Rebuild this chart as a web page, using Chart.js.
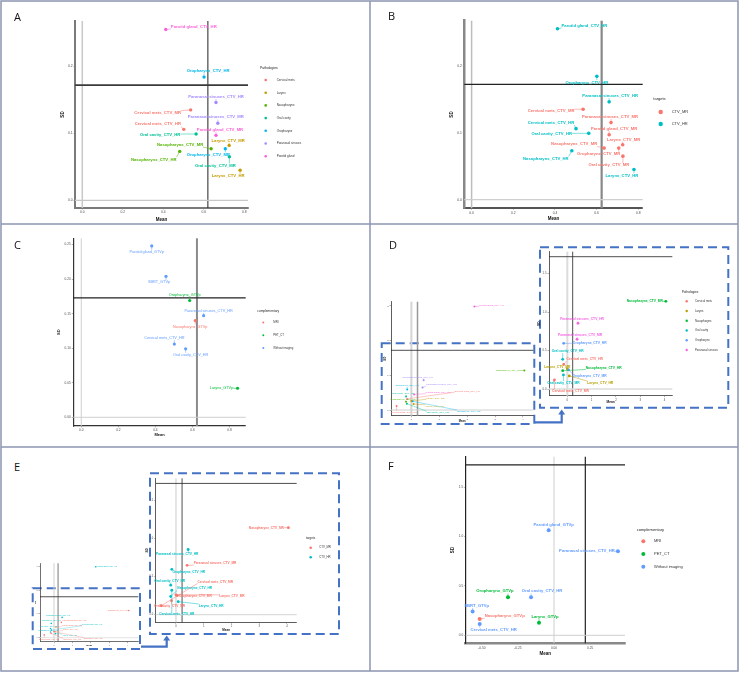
<!DOCTYPE html>
<html>
<head>
<meta charset="utf-8">
<title>Structures: mean vs SD</title>
<script src="https://cdn.jsdelivr.net/npm/chart.js@4.4.1/dist/chart.umd.min.js"></script>
<style>
  html, body { margin: 0; padding: 0; background: #fff; }
  #figure { position: relative; width: 740px; height: 673px; overflow: hidden; background: #fff; }
  #figure canvas { position: absolute; }
  #frame { position: absolute; left: 0; top: 0; }
  .tag { position: absolute; font: 11px "Open Sans", sans-serif; line-height: 1; color: #111; }
</style>
</head>
<body>
<div id="figure">
  <svg id="frame" width="740" height="673">
    <g stroke="#8c95b2" stroke-width="1.5" fill="none">
      <rect x="1" y="1" width="737" height="670"></rect>
      <line x1="370" y1="1" x2="370" y2="671"></line>
      <line x1="1" y1="224" x2="738" y2="224"></line>
      <line x1="1" y1="447" x2="738" y2="447"></line>
    </g>
    <g stroke="#4472c4" stroke-width="2" stroke-dasharray="9 5" fill="none">
      <rect x="381.7" y="343.3" width="152.6" height="80.7"></rect>
      <rect x="540" y="247.3" width="188.3" height="160.4"></rect>
      <rect x="32.7" y="588.3" width="107.3" height="60.7"></rect>
      <rect x="150" y="473.3" width="189" height="160.7"></rect>
    </g>
    <g stroke="#4472c4" stroke-width="2.2" fill="none">
      <polyline points="535,422.3 561.7,422.3 561.7,414"></polyline>
      <polyline points="141,646.7 166.7,646.7 166.7,640"></polyline>
    </g>
    <g fill="#4472c4">
      <polygon points="558.2,414.5 565.2,414.5 561.7,409.5"></polygon>
      <polygon points="163.2,640.5 170.2,640.5 166.7,635.5"></polygon>
    </g>
  </svg>

  <canvas id="chartA"></canvas>
  <canvas id="chartB"></canvas>
  <canvas id="chartC"></canvas>
  <canvas id="chartDfull"></canvas>
  <canvas id="chartDzoom"></canvas>
  <canvas id="chartEfull"></canvas>
  <canvas id="chartEzoom"></canvas>
  <canvas id="chartF"></canvas>

  <div class="tag" style="left:14px;top:11px">A</div>
  <div class="tag" style="left:388px;top:10px">B</div>
  <div class="tag" style="left:14px;top:239px">C</div>
  <div class="tag" style="left:389px;top:239px">D</div>
  <div class="tag" style="left:14px;top:461px">E</div>
  <div class="tag" style="left:388px;top:460px">F</div>
</div>

<script>
  // ---- data ----

  // A and B: CTV structures (pathology x target)
  const pathologyAB = ['Parotid gland', 'Oropharynx', 'Paranasal sinuses', 'Cervical mets', 'Paranasal sinuses', 'Cervical mets', 'Parotid gland',
    'Oral cavity', 'Larynx', 'Nasopharynx', 'Oropharynx', 'Nasopharynx', 'Oral cavity', 'Larynx'];
  const targetAB = ['CTV_HR', 'CTV_HR', 'CTV_HR', 'CTV_MR', 'CTV_MR', 'CTV_HR', 'CTV_MR',
    'CTV_HR', 'CTV_MR', 'CTV_MR', 'CTV_MR', 'CTV_HR', 'CTV_MR', 'CTV_HR'];
  const meanAB = [0.412, 0.601, 0.660, 0.535, 0.669, 0.501, 0.660, 0.562, 0.725, 0.636, 0.706, 0.481, 0.726, 0.779];
  const sdAB = [0.255, 0.184, 0.146, 0.135, 0.115, 0.106, 0.097, 0.099, 0.082, 0.077, 0.077, 0.073, 0.065, 0.045];
  const meanRefAB = 0.62;
  const sdRefAB = 0.172;

  // C and F: structures by complementary imaging
  const structureCF = ['Parotid gland_GTVp', 'SBRT_GTVp', 'Oropharynx_GTVp', 'Paranasal sinuses_CTV_HR',
    'Nasopharynx_GTVp', 'Cervical mets_CTV_HR', 'Oral cavity_CTV_HR', 'Larynx_GTVp'];
  const complementaryCF = ['Without imaging', 'Without imaging', 'PET_CT', 'Without imaging',
    'MRI', 'Without imaging', 'Without imaging', 'PET_CT'];
  const meanC = [0.380, 0.457, 0.585, 0.660, 0.615, 0.502, 0.563, 0.843];
  const sdC = [0.248, 0.204, 0.169, 0.147, 0.140, 0.106, 0.099, 0.042];
  const meanRefC = 0.624;
  const sdRefC = 0.1727;
  const meanF = [-0.037, -0.564, -0.319, 0.443, -0.515, -0.515, -0.159, -0.104];
  const sdF = [1.062, 0.240, 0.385, 0.850, 0.165, 0.115, 0.385, 0.128];
  const meanRefF = 0.217;
  const sdRefF = 1.724;

  // D and E: same structures, full view and zoomed view
  const pathologyDE = ['Parotid gland', 'Parotid gland', 'Nasopharynx', 'Paranasal sinuses', 'Paranasal sinuses', 'Oropharynx', 'Oral cavity',
    'Cervical mets', 'Larynx', 'Nasopharynx', 'Oropharynx', 'Oral cavity', 'Larynx', 'Cervical mets'];
  const targetDE = ['CTV_HR', 'CTV_MR', 'CTV_MR', 'CTV_HR', 'CTV_MR', 'CTV_HR', 'CTV_HR',
    'CTV_HR', 'CTV_MR', 'CTV_HR', 'CTV_MR', 'CTV_MR', 'CTV_HR', 'CTV_MR'];
  const meanDE = [2.26, 0.10, 4.05, 0.44, 0.40, -0.15, -0.19, -0.15, 0.00, -0.19, 0.05, -0.16, 0.08, -0.53];
  const sdDE = [2.98, 0.45, 1.14, 0.854, 0.646, 0.594, 0.386, 0.320, 0.260, 0.238, 0.250, 0.183, 0.170, 0.117];
  const meanRefDE = 0.22;
  const sdRefDE = 1.72;

  // tick labels
  const ticksMeanAB = [0, 0.2, 0.4, 0.6, 0.8];
  const ticksSdAB = [0, 0.1, 0.2];
  const ticksMeanC = [0, 0.2, 0.4, 0.6, 0.8];
  const ticksSdC = [0, 0.05, 0.10, 0.15, 0.20, 0.25];
  const ticksMeanF = [-0.5, -0.25, 0, 0.25];
  const ticksSdF = [0, 0.5, 1.0, 1.5];
  const ticksMeanDE = [0, 1, 2, 3, 4];
  const ticksSdFull = [0, 1, 2, 3];
  const ticksSdZoom = [0, 0.5, 1.0, 1.5];

  // legend categories and colours
  const pathologies7 = ['Cervical mets', 'Larynx', 'Nasopharynx', 'Oral cavity', 'Oropharynx', 'Paranasal sinuses', 'Parotid gland'];
  const pathologies6 = ['Cervical mets', 'Larynx', 'Nasopharynx', 'Oral cavity', 'Oropharynx', 'Paranasal sinuses'];
  const targets = ['CTV_MR', 'CTV_HR'];
  const complementary = ['MRI', 'PET_CT', 'Without imaging'];

  const hue7 = { 'Cervical mets': '#F8766D', 'Larynx': '#C49A00', 'Nasopharynx': '#53B400', 'Oral cavity': '#00C094',
    'Oropharynx': '#00B6EB', 'Paranasal sinuses': '#A58AFF', 'Parotid gland': '#FB61D7' };
  const hue6 = { 'Cervical mets': '#F8766D', 'Larynx': '#B79F00', 'Nasopharynx': '#00BA38', 'Oral cavity': '#00BFC4',
    'Oropharynx': '#619CFF', 'Paranasal sinuses': '#F564E3' };
  const targetColors = { CTV_MR: '#F8766D', CTV_HR: '#00BFC4' };
  const compColors = { 'MRI': '#F8766D', 'PET_CT': '#00BA38', 'Without imaging': '#619CFF' };

  const FONT = '"Liberation Sans", Arial, sans-serif';
  Chart.defaults.font.family = FONT;


  // ---- plugins ----

  const refLines = {
    id: 'refLines',
    beforeDatasetsDraw(chart, args, opts) {
      const { ctx, chartArea: a, scales } = chart;
      ctx.save();
      (opts.x || []).forEach(function(l){
        const px = scales.x.getPixelForValue(l[0]);
        ctx.strokeStyle = l[1];
        ctx.lineWidth = l[2];
        ctx.beginPath();
        ctx.moveTo(px, a.top);
        ctx.lineTo(px, a.bottom);
        ctx.stroke();
      });
      (opts.y || []).forEach(function(l){
        const py = scales.y.getPixelForValue(l[0]);
        ctx.strokeStyle = l[1];
        ctx.lineWidth = l[2];
        ctx.beginPath();
        ctx.moveTo(a.left, py);
        ctx.lineTo(a.right, py);
        ctx.stroke();
      });
      ctx.restore();
    }
  };

  // text labels next to the points, with a short leader line (like ggrepel)
  const pointLabels = {
    id: 'pointLabels',
    afterDatasetsDraw(chart, args, opts) {
      if (!opts.text) return;
      const ctx = chart.ctx;
      const colors = chart.data.datasets[0].pointBackgroundColor;
      const pts = chart.getDatasetMeta(0).data;
      const k = opts.scale || 1;
      ctx.save();
      ctx.font = (opts.bold ? 'bold ' : '') + opts.size + 'px ' + FONT;
      ctx.textAlign = 'center';
      ctx.textBaseline = 'middle';
      ctx.lineWidth = opts.lineWidth || 0.5;
      pts.forEach(function(pt, i){
        const txt = opts.text[i];
        const cx = pt.x + opts.nudge[i][0] * k;
        const cy = pt.y + opts.nudge[i][1] * k;
        const hw = ctx.measureText(txt).width / 2;
        const hh = opts.size * 0.55;
        const ex = Math.min(Math.max(pt.x, cx - hw), cx + hw);
        const ey = Math.min(Math.max(pt.y, cy - hh), cy + hh);
        ctx.strokeStyle = colors[i];
        ctx.fillStyle = colors[i];
        if (Math.hypot(ex - pt.x, ey - pt.y) > 1.5) {
          ctx.beginPath();
          ctx.moveTo(pt.x, pt.y);
          ctx.lineTo(ex, ey);
          ctx.stroke();
        }
        ctx.fillText(txt, cx, cy);
      });
      ctx.restore();
    }
  };

  // legend at the right of the panel, positions in figure pixels
  const sideLegend = {
    id: 'sideLegend',
    afterDraw(chart, args, opts) {
      if (!opts.labels) return;
      const ctx = chart.ctx;
      const ox = chart.canvas.offsetLeft;
      const oy = chart.canvas.offsetTop;
      ctx.save();
      ctx.textAlign = 'left';
      ctx.textBaseline = 'middle';
      ctx.fillStyle = '#222';
      ctx.font = opts.titleSize + 'px ' + FONT;
      ctx.fillText(opts.title, opts.x - ox, opts.y - oy);
      opts.labels.forEach(function(label, i){
        const y = opts.firstY - oy + i * opts.step;
        ctx.fillStyle = opts.colors[i];
        ctx.beginPath();
        ctx.arc(opts.markerX - ox, y, opts.markerR, 0, Math.PI * 2);
        ctx.fill();
        ctx.fillStyle = '#333';
        ctx.font = opts.size + 'px ' + FONT;
        ctx.fillText(label, opts.textX - ox, y);
      });
      ctx.restore();
    }
  };


  // ---- helpers ----

  const pick = (arr, idx) => idx.map(i => arr[i]);

  const axis = function(o, horizontal){
    return {
      type: 'linear',
      min: o.min,
      max: o.max,
      afterBuildTicks: function(s){ s.ticks = o.ticks.map(v => ({ value: v })); },
      afterFit: function(s){ if (horizontal) { s.height = o.size; } else { s.width = o.size; } },
      ticks: {
        font: { size: o.tickSize },
        color: '#4d4d4d',
        padding: 1,
        maxRotation: 0,
        autoSkip: false,
        callback: v => v.toFixed(o.decimals)
      },
      grid: { display: true, drawOnChartArea: false, tickLength: 1.5, color: '#666', lineWidth: 0.5 },
      border: { color: o.lineColor, width: o.lineWidth },
      title: { display: true, text: o.title, padding: 0, color: '#111', font: { size: o.titleSize, weight: 'bold' } }
    };
  };

  const scatterPanel = function(id, p){
    const canvas = document.getElementById(id);
    const [cl, ct, cw, ch] = p.box;
    const [al, at, ar, ab] = p.area;
    canvas.width = cw;
    canvas.height = ch;
    canvas.style.left = cl + 'px';
    canvas.style.top = ct + 'px';
    canvas.style.width = cw + 'px';
    canvas.style.height = ch + 'px';

    return new Chart(canvas, {
      type: 'scatter',
      data: {
        datasets: [{
          data: p.x.map((v, i) => ({ x: v, y: p.y[i] })),
          pointBackgroundColor: p.colors,
          pointBorderWidth: 0,
          pointRadius: p.radius,
          pointHoverRadius: p.radius
        }]
      },
      options: {
        responsive: false,
        animation: false,
        devicePixelRatio: 1,
        layout: {
          padding: {
            left: al - cl - p.yAxis.size,
            top: at - ct,
            right: cl + cw - ar,
            bottom: ct + ch - ab - p.xAxis.size
          }
        },
        scales: { x: axis(p.xAxis, true), y: axis(p.yAxis, false) },
        plugins: {
          legend: { display: false },
          tooltip: { enabled: false },
          refLines: p.lines,
          pointLabels: p.labels,
          sideLegend: p.legend || {}
        }
      },
      plugins: [refLines, pointLabels, sideLegend]
    });
  };


  // ---- A ----
  const namesAB = pathologyAB.map((s, i) => s + '_' + targetAB[i]);

  scatterPanel('chartA', {
    box: [2, 2, 366, 221],
    area: [75, 21, 248, 208],
    x: meanAB, y: sdAB, radius: 1.7,
    colors: pathologyAB.map(s => hue7[s]),
    xAxis: { min: -0.036, max: 0.818, ticks: ticksMeanAB, decimals: 1, size: 14, tickSize: 3.3, title: 'Mean', titleSize: 4.5, lineColor: '#7a7a7a', lineWidth: 2 },
    yAxis: { min: -0.0115, max: 0.2678, ticks: ticksSdAB, decimals: 1, size: 15, tickSize: 3.3, title: 'SD', titleSize: 4.5, lineColor: '#7a7a7a', lineWidth: 2 },
    lines: { x: [[0, '#c8c8c8', 1.5], [meanRefAB, '#222', 1]], y: [[0, '#c8c8c8', 1.2], [sdRefAB, '#3a3a3a', 1.6]] },
    labels: {
      text: namesAB, size: 4.2, bold: true,
      nudge: [[28, -3], [4, -6], [0, -6], [-33, 3], [-2, -6], [-26, -5], [4, -6], [-36, 1], [-1, -5], [-31, -4], [-17, 6], [-26, 8], [-14, 9], [-12, 6]]
    },
    legend: {
      title: 'Pathologies', x: 260, y: 68, titleSize: 3.4,
      labels: pathologies7, colors: pathologies7.map(s => hue7[s]),
      markerX: 265.7, textX: 276.7, firstY: 80, step: 12.7, markerR: 1.3, size: 3
    }
  });

  // ---- B ----
  scatterPanel('chartB', {
    box: [371, 2, 366, 221],
    area: [464.3, 20.7, 642.7, 208.3],
    x: meanAB, y: sdAB, radius: 1.8,
    colors: targetAB.map(t => targetColors[t]),
    xAxis: { min: -0.035, max: 0.821, ticks: ticksMeanAB, decimals: 1, size: 13, tickSize: 3.3, title: 'Mean', titleSize: 4.5, lineColor: '#555', lineWidth: 2 },
    yAxis: { min: -0.0128, max: 0.267, ticks: ticksSdAB, decimals: 1, size: 15.6, tickSize: 3.3, title: 'SD', titleSize: 4.5, lineColor: '#888', lineWidth: 2.5 },
    lines: { x: [[0, '#bdbdbd', 1.5], [0.624, '#888', 2.2]], y: [[0, '#cfcfcf', 1.2], [sdRefAB, '#222', 1.2]] },
    labels: {
      text: namesAB, size: 4.2, bold: true,
      nudge: [[27, -3], [-10, 6], [1, -6], [-32, 2], [-1, -6], [-25, -6], [5, -6], [-37, 1], [1, -5], [-30, -4], [-20, 6], [-26, 8], [-14, 9], [-12, 6]]
    },
    legend: {
      title: 'targets', x: 653.3, y: 99.3, titleSize: 4,
      labels: targets, colors: targets.map(t => targetColors[t]),
      markerX: 660.7, textX: 671.7, firstY: 112, step: 12, markerR: 2.2, size: 4
    }
  });

  // ---- C ----
  scatterPanel('chartC', {
    box: [2, 226, 366, 220],
    area: [73.3, 238.3, 245.7, 426],
    x: meanC, y: sdC, radius: 1.6,
    colors: complementaryCF.map(c => compColors[c]),
    xAxis: { min: -0.043, max: 0.887, ticks: ticksMeanC, decimals: 1, size: 11.5, tickSize: 3.2, title: 'Mean', titleSize: 4, lineColor: '#333', lineWidth: 1.2 },
    yAxis: { min: -0.0126, max: 0.259, ticks: ticksSdC, decimals: 2, size: 17, tickSize: 3.2, title: 'SD', titleSize: 4, lineColor: '#333', lineWidth: 1.2 },
    lines: { x: [[0, '#cfcfcf', 1], [meanRefC, '#8a8a8a', 2]], y: [[0, '#cfcfcf', 1], [sdRefC, '#222', 1.2]] },
    labels: {
      text: structureCF, size: 3.8, bold: false,
      nudge: [[-5, 6], [-7, 6], [-5, -6], [5, -5], [-5, 6], [-10, -6], [5, 6], [-16, 0]]
    },
    legend: {
      title: 'complementary', x: 257.3, y: 311, titleSize: 3.2,
      labels: complementary, colors: complementary.map(c => compColors[c]),
      markerX: 263.3, textX: 273.3, firstY: 322.5, step: 12.7, markerR: 1, size: 2.8
    }
  });

  // ---- D ----
  const namesDE = pathologyDE.map((s, i) => s + '_' + targetDE[i]);
  const zoomIdx = pathologyDE.map((s, i) => i).filter(i => pathologyDE[i] !== 'Parotid gland');
  const nudgeFull = [[17, -1], [24, -2], [-16, 0], [-6, -3], [19, -3], [0, -4], [-3, -3], [60, -8], [24, -3], [-3, -2], [56, 10], [31, 9], [21, 2], [7, 6]];

  scatterPanel('chartDfull', {
    box: [376, 290, 160, 134],
    area: [391, 301.7, 533.3, 415.7],
    x: meanDE, y: sdDE, radius: 1,
    colors: pathologyDE.map(s => hue7[s]),
    xAxis: { min: -0.73, max: 4.37, ticks: ticksMeanDE, decimals: 0, size: 6.7, tickSize: 2.4, title: 'Mean', titleSize: 2.6, lineColor: '#333', lineWidth: 0.8 },
    yAxis: { min: -0.164, max: 3.12, ticks: ticksSdFull, decimals: 0, size: 7, tickSize: 2.4, title: 'SD', titleSize: 2.8, lineColor: '#333', lineWidth: 0.8 },
    lines: { x: [[0, '#d4d4d4', 2], [meanRefDE, '#9a9a9a', 1.5]], y: [[0, '#d0d0d0', 1], [sdRefDE, '#222', 0.8]] },
    labels: { text: namesDE, size: 2.4, bold: false, nudge: nudgeFull, lineWidth: 0.4 }
  });

  scatterPanel('chartDzoom', {
    box: [536, 248, 200, 158],
    area: [549, 251.7, 672.3, 395.7],
    x: pick(meanDE, zoomIdx), y: pick(sdDE, zoomIdx), radius: 1.4,
    colors: pick(pathologyDE, zoomIdx).map(s => hue6[s]),
    xAxis: { min: -0.753, max: 4.315, ticks: ticksMeanDE, decimals: 0, size: 8.5, tickSize: 2.8, title: 'Mean', titleSize: 3.2, lineColor: '#333', lineWidth: 0.8 },
    yAxis: { min: -0.087, max: 1.785, ticks: ticksSdZoom, decimals: 1, size: 11.9, tickSize: 2.8, title: 'SD', titleSize: 3.2, lineColor: '#333', lineWidth: 0.8 },
    lines: { x: [[0, '#dcdcdc', 2], [meanRefDE, '#222', 0.8]], y: [[0, '#dcdcdc', 1.5], [sdRefDE, '#222', 0.8]] },
    labels: {
      text: pick(namesDE, zoomIdx), size: 3.3, bold: true, lineWidth: 0.5,
      nudge: [[-21, 0], [4, -4], [3, -4], [26, 0], [5, -8], [21, -5], [-10, -2], [41, -3], [21, 6], [0, 8], [31, 7], [16, 11]]
    },
    legend: {
      title: 'Pathologies', x: 681.7, y: 291.7, titleSize: 3.2,
      labels: pathologies6, colors: pathologies6.map(s => hue6[s]),
      markerX: 686.7, textX: 695, firstY: 301.3, step: 9.75, markerR: 1.2, size: 2.8
    }
  });

  // ---- E ----
  scatterPanel('chartEfull', {
    box: [33, 555, 110, 92],
    area: [40, 563.3, 138.3, 641.7],
    x: meanDE, y: sdDE, radius: 0.8,
    colors: targetDE.map(t => targetColors[t]),
    xAxis: { min: -0.76, max: 4.57, ticks: ticksMeanDE, decimals: 0, size: 4.6, tickSize: 1.8, title: 'Mean', titleSize: 2.2, lineColor: '#333', lineWidth: 0.7 },
    yAxis: { min: -0.168, max: 3.126, ticks: ticksSdFull, decimals: 0, size: 5.6, tickSize: 1.8, title: 'SD', titleSize: 2.2, lineColor: '#333', lineWidth: 0.7 },
    lines: { x: [[0, '#d0d0d0', 1], [meanRefDE, '#555', 0.8]], y: [[0, '#dcdcdc', 0.8], [sdRefDE, '#222', 0.8]] },
    labels: { text: namesDE, size: 1.9, bold: false, nudge: nudgeFull, scale: 0.68, lineWidth: 0.3 }
  });

  scatterPanel('chartEzoom', {
    box: [144, 474, 196, 159],
    area: [155.7, 478.3, 296.7, 622.3],
    x: pick(meanDE, zoomIdx), y: pick(sdDE, zoomIdx), radius: 1.4,
    colors: pick(targetDE, zoomIdx).map(t => targetColors[t]),
    xAxis: { min: -0.73, max: 4.35, ticks: ticksMeanDE, decimals: 0, size: 9.5, tickSize: 2.7, title: 'Mean', titleSize: 3, lineColor: '#333', lineWidth: 0.8 },
    yAxis: { min: -0.1, max: 1.787, ticks: ticksSdZoom, decimals: 1, size: 10.2, tickSize: 2.7, title: 'SD', titleSize: 3, lineColor: '#333', lineWidth: 0.8 },
    lines: { x: [[0, '#dcdcdc', 1.5], [meanRefDE, '#222', 0.8]], y: [[0, '#dcdcdc', 1.2], [sdRefDE, '#222', 0.8]] },
    labels: {
      text: pick(namesDE, zoomIdx), size: 3.2, bold: true, lineWidth: 0.5,
      nudge: [[-22, 0], [-11, 5], [28, -2], [17, 3], [-1, -4], [5, 24], [56, 1], [24, -8], [18, 1], [-2, 5], [33, 4], [54, -24]]
    },
    legend: {
      title: 'targets', x: 306, y: 538.3, titleSize: 3,
      labels: targets, colors: targets.map(t => targetColors[t]),
      markerX: 310.7, textX: 319.3, firstY: 547.7, step: 9.6, markerR: 1.3, size: 2.8
    }
  });

  // ---- F ----
  scatterPanel('chartF', {
    box: [371, 449, 366, 221],
    area: [465.7, 456.7, 625, 643.3],
    x: meanF, y: sdF, radius: 2,
    colors: complementaryCF.map(c => compColors[c]),
    xAxis: { min: -0.612, max: 0.492, ticks: ticksMeanF, decimals: 2, size: 13, tickSize: 3.2, title: 'Mean', titleSize: 4.5, lineColor: '#888', lineWidth: 2.5 },
    yAxis: { min: -0.081, max: 1.807, ticks: ticksSdF, decimals: 1, size: 16, tickSize: 3.2, title: 'SD', titleSize: 4.5, lineColor: '#222', lineWidth: 1.2 },
    lines: { x: [[0, '#cfcfcf', 1], [meanRefF, '#222', 1.2]], y: [[0, '#cfcfcf', 1], [sdRefF, '#222', 1.2]] },
    labels: {
      text: structureCF, size: 4.2, bold: true,
      nudge: [[5, -5], [4, -6], [-13, -6], [-31, 0], [25, -3], [14, 6], [11, -6], [6, -6]]
    },
    legend: {
      title: 'complementary', x: 636.7, y: 530, titleSize: 4,
      labels: complementary, colors: complementary.map(c => compColors[c]),
      markerX: 643.3, textX: 654, firstY: 541.3, step: 12.7, markerR: 2, size: 4
    }
  });
</script>
</body>
</html>
